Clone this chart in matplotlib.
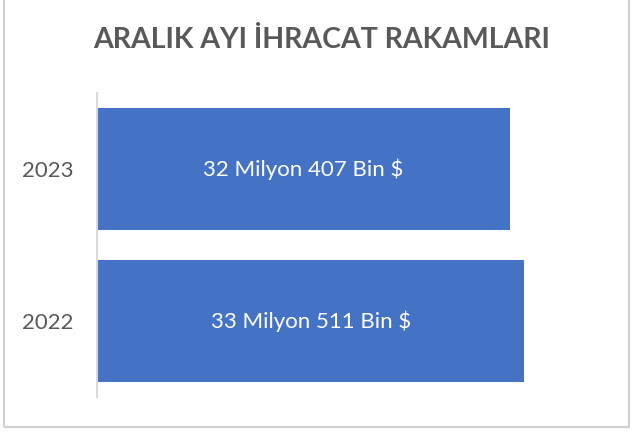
import matplotlib
matplotlib.use("Agg")
import matplotlib.pyplot as plt
from matplotlib.patches import Rectangle

# December export values, thousand USD
years = ["2022", "2023"]
exports = [33511, 32407]
bar_labels = [f"{v // 1000} Milyon {v % 1000} Bin $" for v in exports]

plt.rcParams["font.family"] = ["Lato", "DejaVu Sans"]

fig = plt.figure(figsize=(6.32, 4.32), dpi=100)
ax = fig.add_axes([97 / 632, 35 / 432, 510 / 632, 304 / 432])

bars = ax.barh(years, exports, height=0.8, color="#4472C4")
for b, lab in zip(bars, bar_labels):
    ax.text(b.get_width() / 2, b.get_y() + b.get_height() / 2, lab,
            ha="center", va="center", color="white", fontsize=16)

ax.set_xlim(0, 40000)
ax.set_ylim(-0.5, 1.5)
ax.set_xticks([])
ax.tick_params(axis="y", length=0, pad=17, labelsize=16, labelcolor="#595959")
for s in ["top", "right", "bottom"]:
    ax.spines[s].set_visible(False)
ax.spines["left"].set_color("#D9D9D9")
ax.spines["left"].set_linewidth(1.5)

fig.text(322 / 632, 1 - 40 / 432, "ARALIK AYI İHRACAT RAKAMLARI", ha="center", va="center",
         fontsize=20.5, fontweight="bold", color="#595959")

# chart frame
fig.patches.append(Rectangle((4 / 632, 5 / 432), 625 / 632, 440 / 432, transform=fig.transFigure,
                             fill=False, edgecolor="#D0D0D0", linewidth=1.5))

fig.savefig("out.png", dpi=100)
